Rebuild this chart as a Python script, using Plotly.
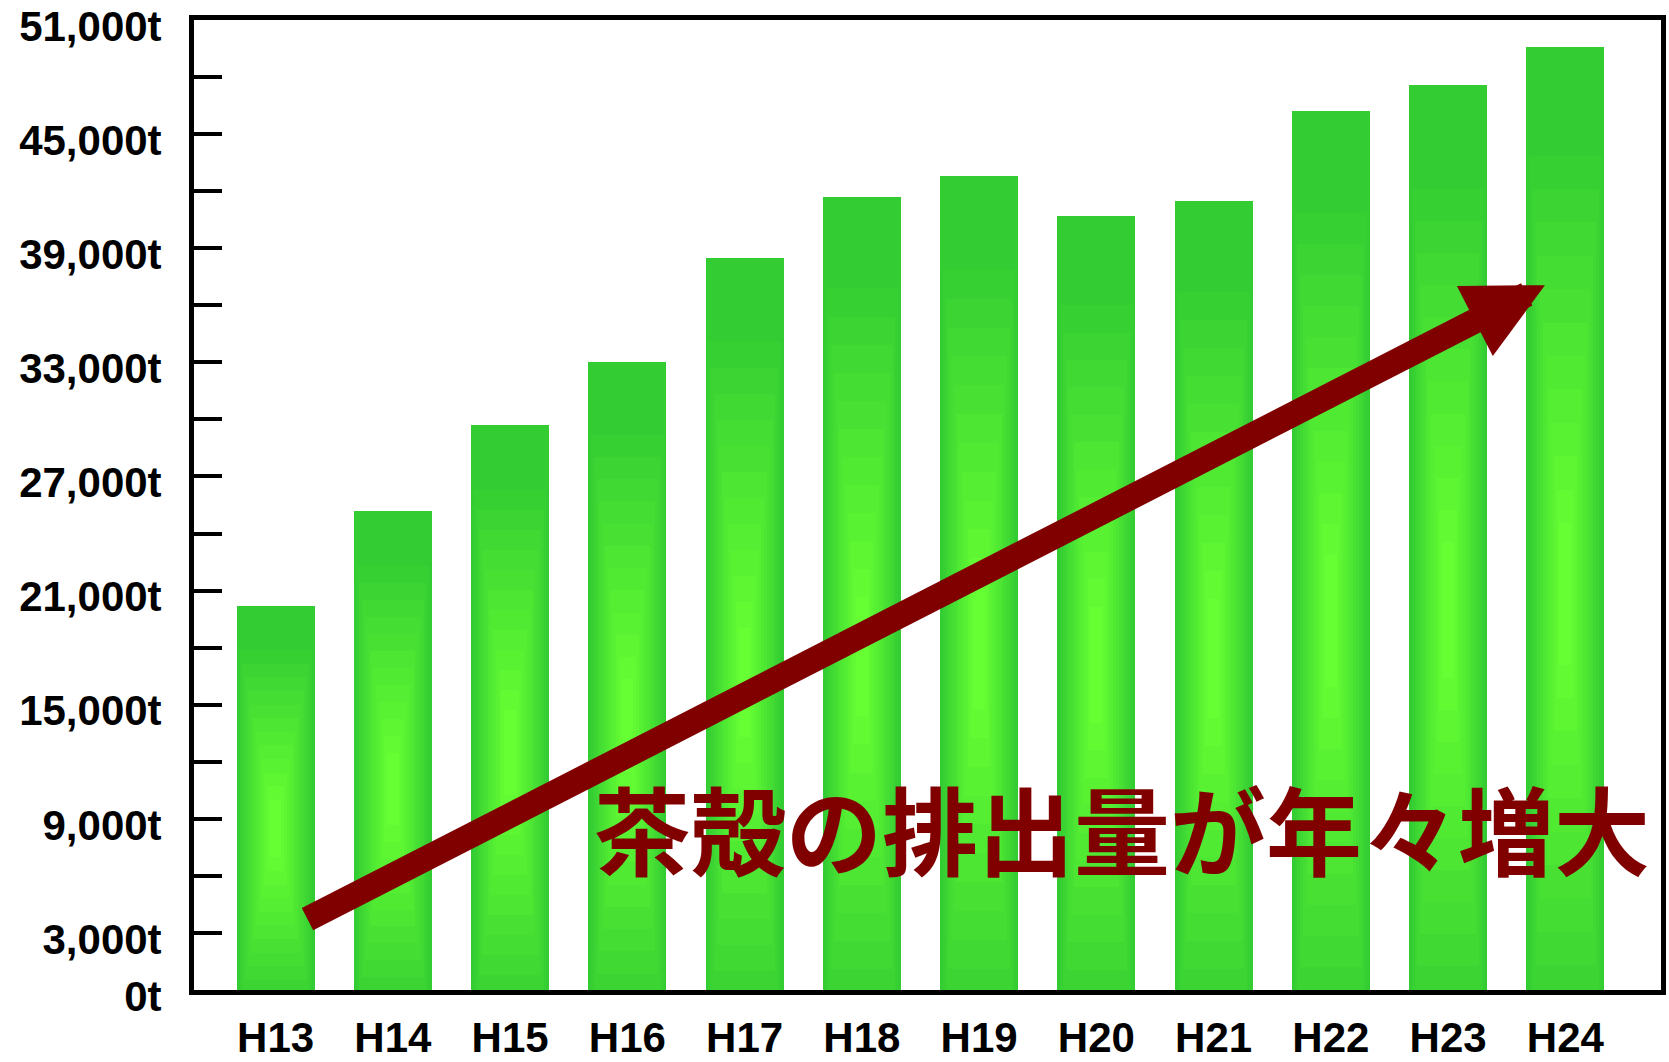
import plotly.graph_objects as go

# ---- data ----
categories = ["H13", "H14", "H15", "H16", "H17", "H18",
              "H19", "H20", "H21", "H22", "H23", "H24"]
tea_waste_t = [20200, 25200, 29700, 33000, 38500, 41700,
               42800, 40700, 41500, 46200, 47600, 49600]

y_tick_values = [0, 3000, 9000, 15000, 21000, 27000, 33000, 39000, 45000, 51000]
y_tick_labels = ["0t", "3,000t", "9,000t", "15,000t", "21,000t", "27,000t",
                 "33,000t", "39,000t", "45,000t", "51,000t"]

headline = "茶殻の排出量が年々増大"

# ---- style ----
DARK = (51, 204, 51)
BRIGHT = (102, 255, 51)
BAR_W = 0.665
N_LAYERS = 12
S_MAX = 0.85      # fraction of half-extent over which colour reaches full brightness
YC = 0.42         # vertical centre of the highlight (fraction of bar height)
HB = 0.50         # vertical half-extent of highlight field (fraction of bar height)


def lerp(c1, c2, t):
    return "rgb(%d,%d,%d)" % tuple(round(a + (b - a) * t) for a, b in zip(c1, c2))


fig = go.Figure()

# base (dark) bars
fig.add_trace(go.Bar(
    x=categories, y=tea_waste_t, width=BAR_W,
    marker=dict(color=lerp(DARK, BRIGHT, 0), line=dict(width=0)),
    hoverinfo="skip", showlegend=False,
))

# layered highlight to imitate the cylindrical gradient
for k in range(1, N_LAYERS + 1):
    s = k / N_LAYERS * S_MAX
    frac = 1 - s
    bases, heights = [], []
    for v in tea_waste_t:
        lo = max(0.0, v * (YC - HB * frac))
        hi = min(v, v * (YC + HB * frac))
        bases.append(lo)
        heights.append(hi - lo)
    fig.add_trace(go.Bar(
        x=categories, y=heights, base=bases, width=BAR_W * frac,
        marker=dict(color=lerp(DARK, BRIGHT, k / N_LAYERS), line=dict(width=0)),
        hoverinfo="skip", showlegend=False,
    ))

tick_font = dict(family="Liberation Sans, Arial, sans-serif", size=42,
                 color="black", weight="bold")

fig.update_layout(
    width=1669, height=1062,
    margin=dict(l=194, r=8, t=20, b=72, autoexpand=False),
    barmode="overlay",
    bargap=0,
    paper_bgcolor="white",
    plot_bgcolor="white",
    showlegend=False,
    hovermode=False,
    xaxis=dict(
        type="category",
        range=[-0.696, 11.816],
        automargin=False,
        showgrid=False, zeroline=False,
        showline=True, mirror=True, linecolor="black", linewidth=5,
        ticks="", tickfont=tick_font, ticklabelstandoff=7,
    ),
    yaxis=dict(
        range=[0, 51000],
        automargin=False,
        tickmode="array", tickvals=y_tick_values, ticktext=y_tick_labels,
        showgrid=False, zeroline=False,
        showline=True, mirror=True, linecolor="black", linewidth=5,
        ticks="inside", ticklen=28, tickwidth=4, tickcolor="black",
        minor=dict(dtick=3000, tick0=0, ticks="inside", ticklen=28,
                   tickwidth=4, tickcolor="black", showgrid=False),
        tickfont=tick_font, ticklabelstandoff=19, ticklabelshift=6,
        ticklabeloverflow="allow",
    ),
)

# trend arrow (decorative)
fig.add_annotation(
    x=10.826, y=37060, xref="x", yref="y",
    ax=0.259, ay=3680, axref="x", ayref="y",
    text="", showarrow=True,
    arrowhead=2, arrowsize=0.63, arrowwidth=25, arrowcolor="#800000",
    standoff=0, startstandoff=0,
)

# headline text
fig.add_annotation(
    x=0.6326, y=0.169, xref="paper", yref="paper",
    text=headline, showarrow=False,
    xanchor="center", yanchor="middle",
    font=dict(family="Noto Sans CJK JP", size=96, color="#800000", weight="bold"),
)

fig.write_html(
    "out.html",
    config={"displayModeBar": False, "staticPlot": True},
    post_script="document.body.style.margin='0';document.body.style.overflow='hidden';",
)
